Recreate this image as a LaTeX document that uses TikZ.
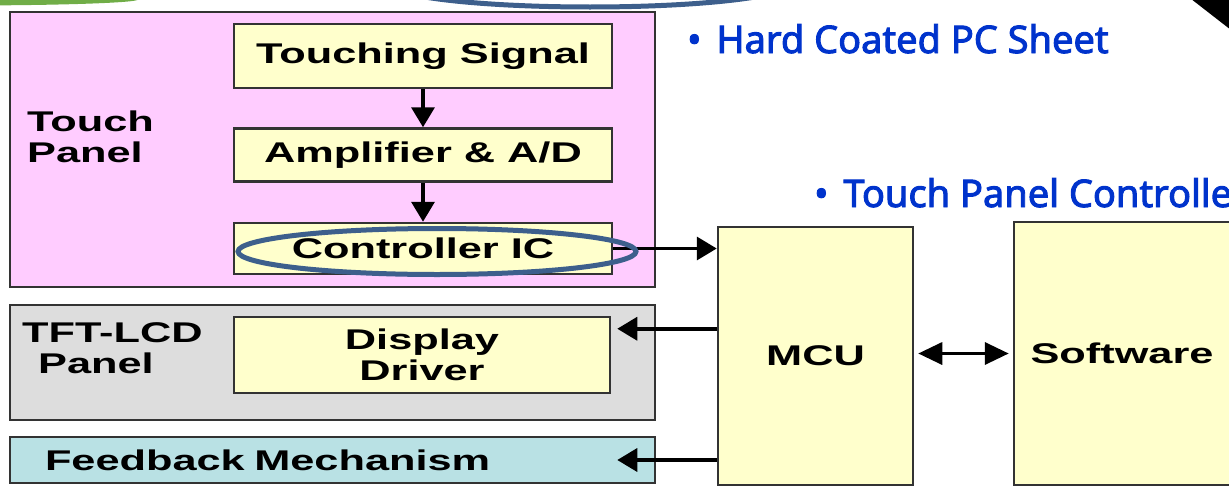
\documentclass[tikz,border=0pt]{standalone}
\usepackage{fontspec}
\setmainfont{Liberation Sans}
\newfontfamily\boxfont{Liberation Sans}[FakeStretch=1.52]
\newfontfamily\notefont{Noto Sans}[FakeBold=2.5]
\usetikzlibrary{arrows.meta,shapes.geometric,positioning}
\definecolor{touchpink}{HTML}{FFCCFF}
\definecolor{lcdgray}{HTML}{DDDDDD}
\definecolor{fbcyan}{HTML}{B9E1E4}
\definecolor{unitfill}{HTML}{FFFFCC}
\definecolor{edge}{HTML}{333333}
\definecolor{ringblue}{HTML}{3D5F8C}
\definecolor{noteblue}{HTML}{0033CC}
\definecolor{decogreen}{HTML}{70AD47}
\begin{document}
\begin{tikzpicture}[x=1pt, y=-1pt,
	panel/.style={draw=edge, line width=2.5pt, rectangle, inner sep=0pt},
	unit/.style={panel, fill=unitfill, font=\boxfont\bfseries\fontsize{28.5}{31}\selectfont},
	tag/.style={font=\boxfont\bfseries\fontsize{28.5}{31}\selectfont, align=left, anchor=west, inner sep=0pt},
	arr/.style={-{Triangle[length=20pt,width=23pt]}, line width=3.5pt},
	note/.style={text=noteblue, font=\notefont\fontsize{38}{40}\selectfont, anchor=base west, inner sep=0pt}]
		\clip (0,0) rectangle (1229,490);
		\fill[decogreen] (-40,-0.5) ellipse [x radius=178, y radius=6];
		\draw[ringblue, line width=5pt] (590,-16) ellipse [x radius=200, y radius=23];
		\fill (1186,-5) -- (1240,-5) -- (1240,37) -- cycle;

		\node[panel, fill=touchpink, minimum width=645, minimum height=275] (touch) at (332.5,149.5) {};
		\node[tag] (touchlbl) at (27,137) {Touch\\Panel};
		\node[unit, minimum width=378, minimum height=64] (sig) at (423,56) {Touching Signal};
		\node[unit, minimum width=378, minimum height=53, below=38pt of sig] (amp) {Amplifier \& A/D};
		\node[unit, minimum width=378, minimum height=51, below=39pt of amp] (ctrl) {Controller IC};

		\node[panel, fill=lcdgray, minimum width=645, minimum height=115] (lcd) at (332.5,362.5) {};
		\node[tag] (lcdlbl) at (22,348) {TFT-LCD\\\hspace*{16pt}Panel};
		\node[unit, minimum width=376, minimum height=76, align=center] (drv) at (422,355) {Display\\Driver};
		\node[unit, fill=fbcyan, minimum width=645, minimum height=46, text width=575, inner xsep=35pt, align=left] (fb) at (332.5,460) {Feedback Mechanism};

		\node[unit, minimum width=195, minimum height=258] (mcu) at (815.5,356) {MCU};
		\node[unit, minimum width=216, minimum height=263] (sw) at (1122,353.5) {Software};

		\coordinate (drvin) at ([xshift=6pt, yshift=-13pt]drv.north east);
		\coordinate (fbin) at (drvin |- fb.east);
		\draw[arr] (sig) -- (amp);
		\draw[arr] (amp) -- (ctrl);
		\draw[arr] (ctrl.east) -- (ctrl.east -| mcu.west);
		\draw[arr] (drvin -| mcu.west) -- (drvin);
		\draw[arr] (fbin -| mcu.west) -- (fbin);
		\draw[arr, {Triangle[length=24pt,width=22pt]}-{Triangle[length=24pt,width=22pt]}, shorten <=4pt, shorten >=4pt] (sw.west -| mcu.east) -- (sw.west);

		\node[draw=ringblue, line width=5pt, ellipse, minimum width=398, minimum height=46, inner sep=0pt] (ring) at ([xshift=14pt, yshift=-3pt]ctrl.center) {};

		\node[note] (coat) at (687,53) {\textbullet\hspace{15pt}Hard Coated PC Sheet};
		\node[note] (ctrlnote) at (814,207) {\textbullet\hspace{15pt}Touch Panel Controller};
\end{tikzpicture}
\end{document}
